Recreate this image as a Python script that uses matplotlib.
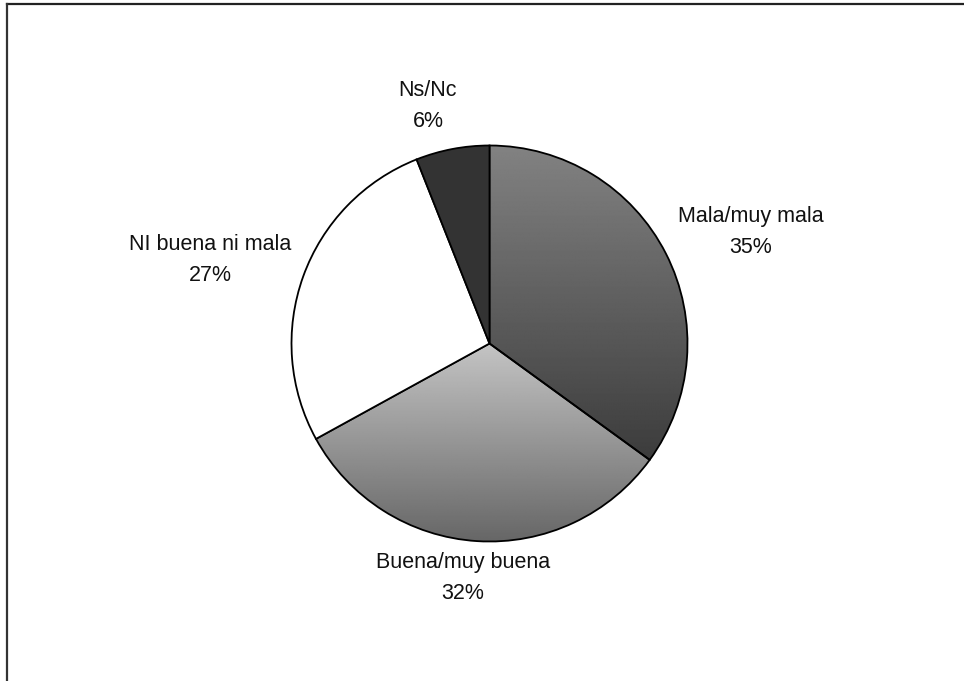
import numpy as np
import matplotlib
matplotlib.use("Agg")
import matplotlib.pyplot as plt
from matplotlib.lines import Line2D

categories = ["Mala/muy mala", "Buena/muy buena", "NI buena ni mala", "Ns/Nc"]
shares = [35, 32, 27, 6]

# fill per slice: (top grey, bottom grey) for gradients, or a flat colour
fills = [("#828282", "#3c3c3c"), ("#c4c4c4", "#666666"), "#ffffff", "#333333"]
# label anchor points (pixel coordinates, origin top-left)
label_pos = [(751, 232), (463, 578), (210, 260), (428, 106)]

W, H = 964, 681
plt.rcParams["font.family"] = ["Liberation Sans", "DejaVu Sans"]
fig = plt.figure(figsize=(W / 100, H / 100), dpi=100)
ax = fig.add_axes([0, 0, 1, 1])

cx, cy, r = 489.5, H - 343.5, 198
wedges, _ = ax.pie(shares, startangle=90, counterclock=False, center=(cx, cy),
                   radius=r, colors=["none"] * 4, frame=True,
                   wedgeprops=dict(edgecolor="black", linewidth=1.3))
ax.set_xlim(0, W)
ax.set_ylim(0, H)
ax.set_aspect("equal")
ax.axis("off")

for w, f in zip(wedges, fills):
    if isinstance(f, tuple):
        verts = w.get_path().vertices
        y0, y1 = verts[:, 1].min(), verts[:, 1].max()
        x0, x1 = verts[:, 0].min(), verts[:, 0].max()
        top = int(f[0][1:3], 16) / 255
        bot = int(f[1][1:3], 16) / 255
        grad = np.linspace(top, bot, 256)[:, None] * np.ones((1, 4))
        im = ax.imshow(grad, cmap="gray", vmin=0, vmax=1, aspect="auto",
                       extent=(x0, x1, y0, y1), origin="upper",
                       interpolation="bilinear", zorder=0.5)
        im.set_clip_path(w)
    else:
        w.set_facecolor(f)

for name, val, (px, py) in zip(categories, shares, label_pos):
    ax.text(px, H - py, f"{name}\n{val}%", ha="center", va="center",
            fontsize=15.5, linespacing=1.6, color="#111111")

# outer chart-area frame (top and left edges)
fig.add_artist(Line2D([7 / W, 1], [1 - 4 / H, 1 - 4 / H], color="#222222",
                      linewidth=1.6, transform=fig.transFigure))
fig.add_artist(Line2D([7 / W, 7 / W], [0, 1 - 4 / H], color="#333333",
                      linewidth=1.6, transform=fig.transFigure))

fig.savefig("out.png", dpi=100, facecolor="white")
